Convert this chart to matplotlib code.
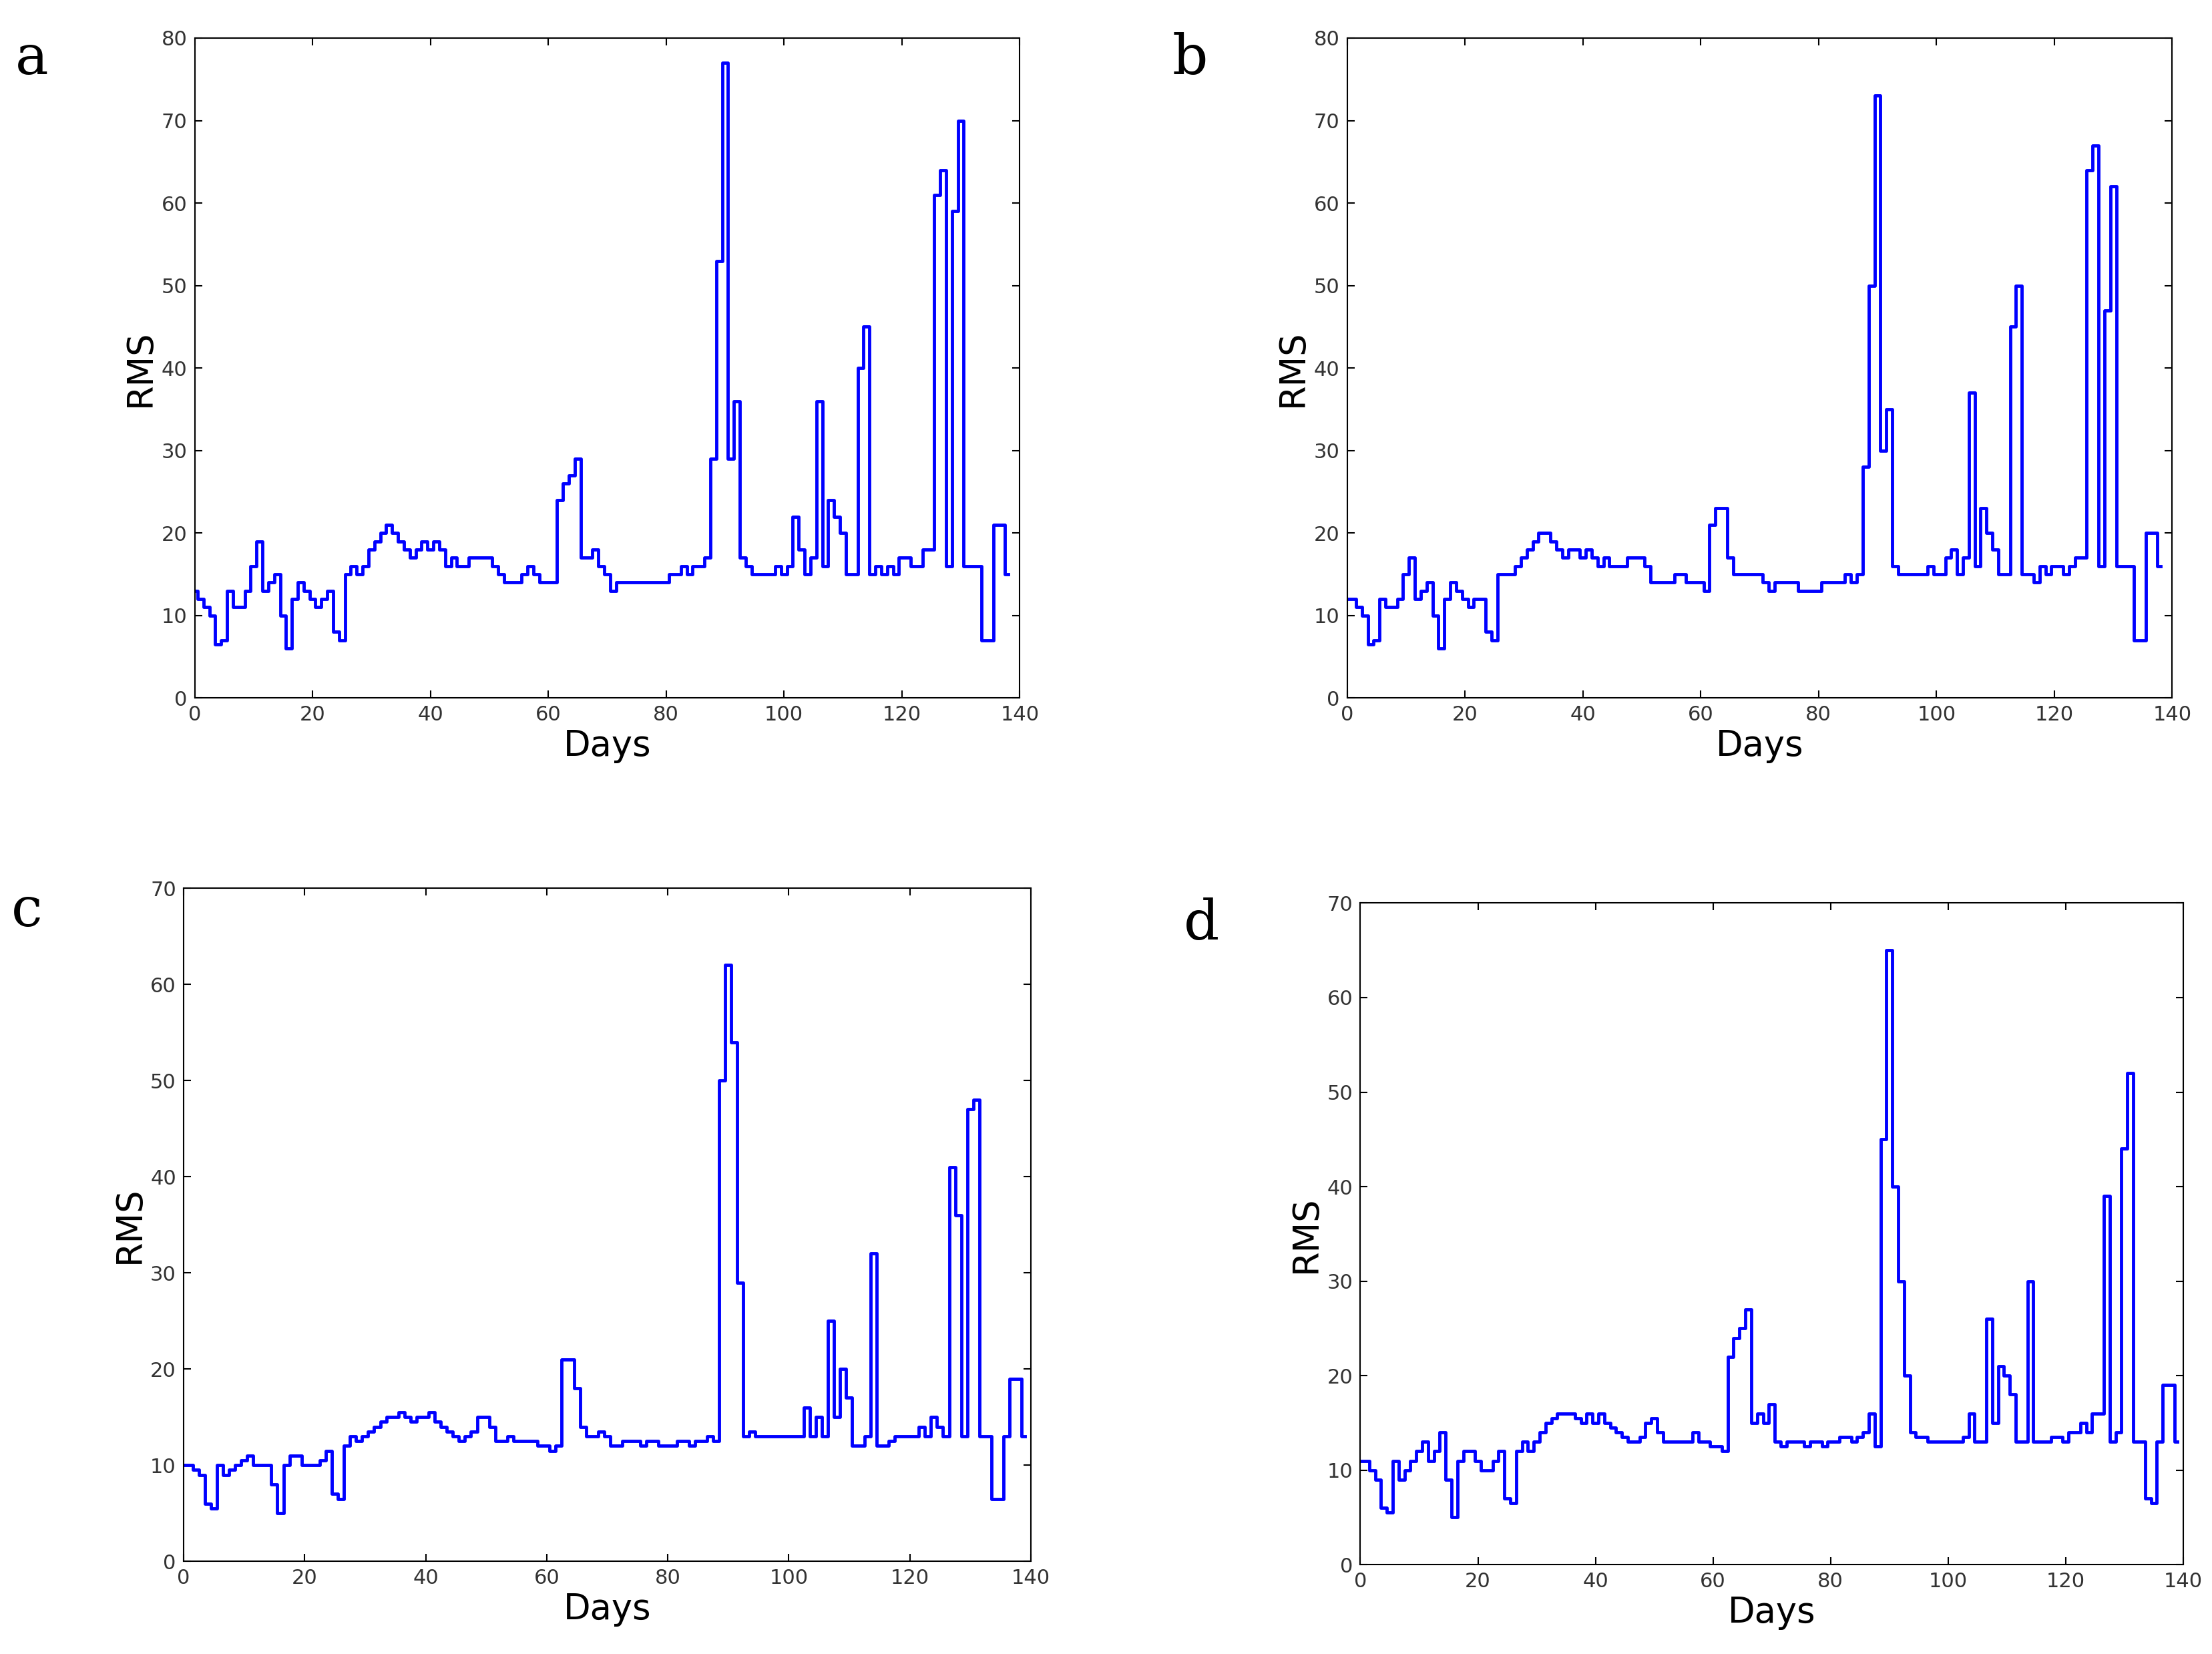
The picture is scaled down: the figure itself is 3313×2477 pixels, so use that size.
import numpy as np
import matplotlib.pyplot as plt

# values, one per day (day 0..138/139)
rms_a = [13, 12, 11, 10, 6.5, 7, 13, 11, 11, 13, 16, 19, 13, 14, 15, 10, 6, 12, 14, 13,
         12, 11, 12, 13, 8, 7, 15, 16, 15, 16, 18, 19, 20, 21, 20, 19, 18, 17, 18, 19,
         18, 19, 18, 16, 17, 16, 16, 17, 17, 17, 17, 16, 15, 14, 14, 14, 15, 16, 15, 14,
         14, 14, 24, 26, 27, 29, 17, 17, 18, 16, 15, 13, 14, 14, 14, 14, 14, 14, 14, 14,
         14, 15, 15, 16, 15, 16, 16, 17, 29, 53, 77, 29, 36, 17, 16, 15, 15, 15, 15, 16,
         15, 16, 22, 18, 15, 17, 36, 16, 24, 22, 20, 15, 15, 40, 45, 15, 16, 15, 16, 15,
         17, 17, 16, 16, 18, 18, 61, 64, 16, 59, 70, 16, 16, 16, 7, 7, 21, 21, 15]
rms_b = [12, 12, 11, 10, 6.5, 7, 12, 11, 11, 12, 15, 17, 12, 13, 14, 10, 6, 12, 14, 13,
         12, 11, 12, 12, 8, 7, 15, 15, 15, 16, 17, 18, 19, 20, 20, 19, 18, 17, 18, 18,
         17, 18, 17, 16, 17, 16, 16, 16, 17, 17, 17, 16, 14, 14, 14, 14, 15, 15, 14, 14,
         14, 13, 21, 23, 23, 17, 15, 15, 15, 15, 15, 14, 13, 14, 14, 14, 14, 13, 13, 13,
         13, 14, 14, 14, 14, 15, 14, 15, 28, 50, 73, 30, 35, 16, 15, 15, 15, 15, 15, 16,
         15, 15, 17, 18, 15, 17, 37, 16, 23, 20, 18, 15, 15, 45, 50, 15, 15, 14, 16, 15,
         16, 16, 15, 16, 17, 17, 64, 67, 16, 47, 62, 16, 16, 16, 7, 7, 20, 20, 16]
rms_c = [10, 10, 9.5, 9, 6, 5.5, 10, 9, 9.5, 10, 10.5, 11, 10, 10, 10, 8, 5, 10, 11, 11,
         10, 10, 10, 10.5, 11.5, 7, 6.5, 12, 13, 12.5, 13, 13.5, 14, 14.5, 15, 15, 15.5, 15, 14.5, 15,
         15, 15.5, 14.5, 14, 13.5, 13, 12.5, 13, 13.5, 15, 15, 14, 12.5, 12.5, 13, 12.5, 12.5, 12.5, 12.5, 12,
         12, 11.5, 12, 21, 21, 18, 14, 13, 13, 13.5, 13, 12, 12, 12.5, 12.5, 12.5, 12, 12.5, 12.5, 12,
         12, 12, 12.5, 12.5, 12, 12.5, 12.5, 13, 12.5, 50, 62, 54, 29, 13, 13.5, 13, 13, 13, 13, 13,
         13, 13, 13, 16, 13, 15, 13, 25, 15, 20, 17, 12, 12, 13, 32, 12, 12, 12.5, 13, 13,
         13, 13, 14, 13, 15, 14, 13, 41, 36, 13, 47, 48, 13, 13, 6.5, 6.5, 13, 19, 19, 13]
rms_d = [11, 11, 10, 9, 6, 5.5, 11, 9, 10, 11, 12, 13, 11, 12, 14, 9, 5, 11, 12, 12,
         11, 10, 10, 11, 12, 7, 6.5, 12, 13, 12, 13, 14, 15, 15.5, 16, 16, 16, 15.5, 15, 16,
         15, 16, 15, 14.5, 14, 13.5, 13, 13, 13.5, 15, 15.5, 14, 13, 13, 13, 13, 13, 14, 13, 13,
         12.5, 12.5, 12, 22, 24, 25, 27, 15, 16, 15, 17, 13, 12.5, 13, 13, 13, 12.5, 13, 13, 12.5,
         13, 13, 13.5, 13.5, 13, 13.5, 14, 16, 12.5, 45, 65, 40, 30, 20, 14, 13.5, 13.5, 13, 13, 13,
         13, 13, 13, 13.5, 16, 13, 13, 26, 15, 21, 20, 18, 13, 13, 30, 13, 13, 13, 13.5, 13.5,
         13, 14, 14, 15, 14, 16, 16, 39, 13, 14, 44, 52, 13, 13, 7, 6.5, 13, 19, 19, 13]

panels = [
    ("a", rms_a, [0.088, 0.578, 0.373, 0.399], 80, (0.007, 0.955)),
    ("b", rms_b, [0.609, 0.578, 0.373, 0.399], 80, (0.530, 0.955)),
    ("c", rms_c, [0.083, 0.056, 0.383, 0.407], 70, (0.005, 0.440)),
    ("d", rms_d, [0.615, 0.054, 0.372, 0.400], 70, (0.535, 0.432)),
]

fig = plt.figure(figsize=(33.13, 24.77), dpi=100)
for letter, vals, rect, ymax, lpos in panels:
    ax = fig.add_axes(rect)
    days = np.arange(len(vals))
    ax.plot(days, vals, color="#0000ff", linewidth=3.5, drawstyle="steps-mid")
    ax.set_xlim(0, 140)
    ax.set_ylim(0, ymax)
    ax.set_xticks(range(0, 141, 20))
    ax.set_yticks(range(0, ymax + 1, 10))
    ax.tick_params(labelsize=22, direction="in", length=8, width=1.5, pad=8,
                   top=True, right=True, labelcolor="#333333")
    for s in ax.spines.values():
        s.set_linewidth(1.5)
    ax.set_xlabel("Days", fontsize=38, labelpad=4)
    ax.set_ylabel("RMS", fontsize=38, labelpad=4)
    fig.text(lpos[0], lpos[1], letter, fontsize=60, family="DejaVu Serif")

fig.savefig("out.png", dpi=100)
